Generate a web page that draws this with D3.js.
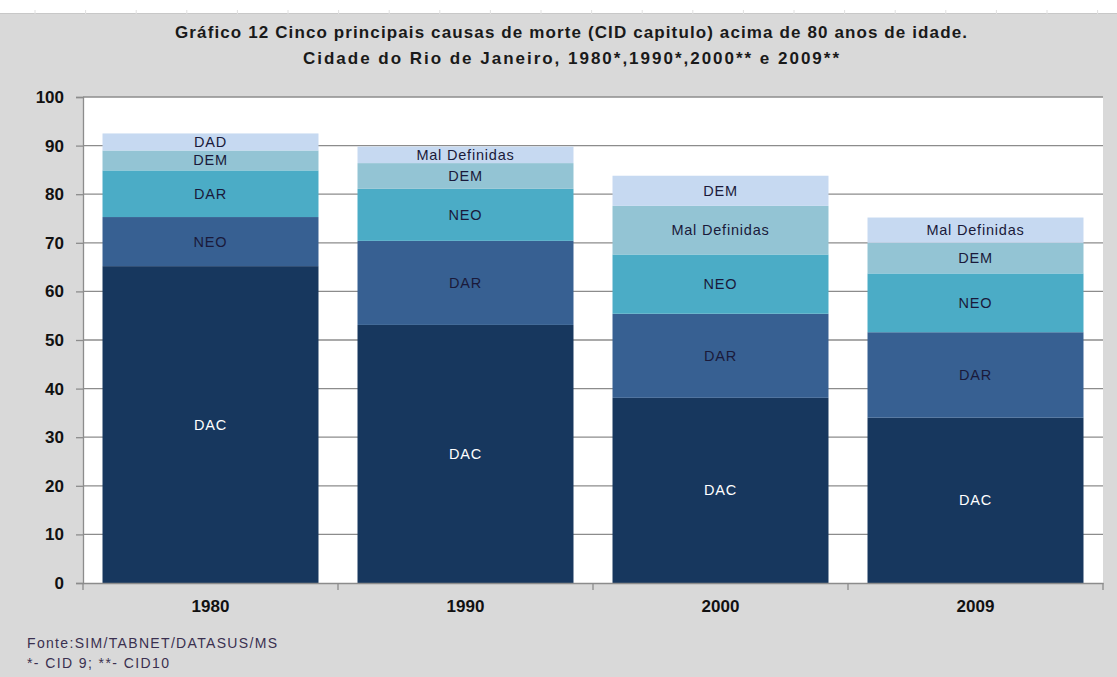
<!DOCTYPE html>
<html>
<head>
<meta charset="utf-8">
<script src="https://cdn.jsdelivr.net/npm/d3@7"></script>
<style>
  body { margin: 0; background: #fff; }
  svg { display: block; }
</style>
</head>
<body>
<script>
// anos (categorias)
const years = ['1980', '1990', '2000', '2009']

// valores por camada da pilha, de baixo para cima
const level1 = [65.2, 53.1, 38.1, 34.0]
const level2 = [10.1, 17.3, 17.3, 17.6]
const level3 = [9.6, 10.7, 12.2, 12.1]
const level4 = [4.1, 5.3, 10.0, 6.3]
const level5 = [3.5, 3.4, 6.2, 5.2]

// rótulos de cada camada (mudam de ano para ano)
const labels1 = ['DAC', 'DAC', 'DAC', 'DAC']
const labels2 = ['NEO', 'DAR', 'DAR', 'DAR']
const labels3 = ['DAR', 'NEO', 'NEO', 'NEO']
const labels4 = ['DEM', 'DEM', 'Mal Definidas', 'DEM']
const labels5 = ['DAD', 'Mal Definidas', 'DEM', 'Mal Definidas']

const yTicks = [0, 10, 20, 30, 40, 50, 60, 70, 80, 90, 100]

const titleLines = [
    'Gráfico 12 Cinco principais causas de morte (CID capitulo) acima de 80 anos de idade.',
    'Cidade do Rio de Janeiro, 1980*,1990*,2000** e 2009**'
]
const footLines = ['Fonte:SIM/TABNET/DATASUS/MS', '*- CID 9; **- CID10']

const levels = [level1, level2, level3, level4, level5]
const labels = [labels1, labels2, labels3, labels4, labels5]
const keys = ['l1', 'l2', 'l3', 'l4', 'l5']
const colors = ['#17375e', '#376092', '#4bacc6', '#93c4d4', '#c6d9f1']
const textColors = ['#ffffff', '#1a1a3a', '#1a1a3a', '#1a1a3a', '#1a1a3a']

const table = years.map((y, i) => {
    const row = { year: y }
    keys.forEach((k, j) => { row[k] = levels[j][i] })
    return row
})

const w = 1117
const h = 677
const plot = { left: 83, right: 1103, top: 97, bottom: 583 }
const font = '"Liberation Sans", Arial, sans-serif'

const svg = d3.select('body')
    .append('svg')
    .attr('width', w)
    .attr('height', h)
    .style('font-family', font)

// fundo cinza da área do gráfico
svg.append('rect').attr('width', w).attr('height', h).attr('fill', '#fff')
svg.append('rect')
    .attr('x', 0).attr('y', 13)
    .attr('width', w).attr('height', h - 13)
    .attr('fill', '#d9d9d9')
svg.append('line')
    .attr('x1', 0).attr('x2', w).attr('y1', 13.5).attr('y2', 13.5)
    .attr('stroke', '#c8c8c8')
svg.selectAll('.colmark')
    .data(d3.range(35, w, 50.6))
    .enter().append('line')
    .attr('x1', d => d).attr('x2', d => d)
    .attr('y1', 10).attr('y2', 14)
    .attr('stroke', '#e0e0e0')

// área de plotagem
svg.append('rect')
    .attr('x', plot.left).attr('y', plot.top)
    .attr('width', plot.right - plot.left).attr('height', plot.bottom - plot.top)
    .attr('fill', '#fff')

const x = d3.scaleBand()
    .domain(years)
    .range([plot.left, plot.right])
    .paddingInner(0.153)
    .paddingOuter(0.0765)

const y = d3.scaleLinear()
    .domain([0, 100])
    .range([plot.bottom, plot.top])

// linhas de grade
svg.append('g')
    .selectAll('line')
    .data(yTicks.filter(d => d > 0))
    .enter().append('line')
    .attr('x1', plot.left).attr('x2', plot.right)
    .attr('y1', d => y(d)).attr('y2', d => y(d))
    .attr('stroke', '#8c8c8c')
    .attr('stroke-width', 1.3)

const series = d3.stack().keys(keys)(table)

const layer = svg.append('g')
    .selectAll('g')
    .data(series)
    .enter().append('g')
    .attr('fill', (d, i) => colors[i])

layer.selectAll('rect')
    .data(d => d)
    .enter().append('rect')
    .attr('x', d => x(d.data.year))
    .attr('width', x.bandwidth())
    .attr('y', d => y(d[1]))
    .attr('height', d => y(d[0]) - y(d[1]))

// rótulos de dados
series.forEach((s, j) => {
    svg.append('g')
        .selectAll('text')
        .data(s)
        .enter().append('text')
        .attr('x', d => x(d.data.year) + x.bandwidth() / 2)
        .attr('y', d => (y(d[0]) + y(d[1])) / 2)
        .attr('dy', '0.35em')
        .attr('text-anchor', 'middle')
        .attr('font-size', 14.5)
        .attr('letter-spacing', 0.8)
        .attr('fill', textColors[j])
        .text((d, i) => labels[j][i])
})

// eixo y
const yAxis = svg.append('g')
    .attr('transform', `translate(${plot.left},0)`)
    .call(d3.axisLeft(y).tickValues(yTicks).tickSize(7).tickPadding(12))
yAxis.select('.domain').attr('stroke', '#8c8c8c').attr('stroke-width', 1.3)
yAxis.selectAll('.tick line').attr('stroke', '#8c8c8c').attr('stroke-width', 1.3)
yAxis.selectAll('.tick text')
    .attr('font-size', 17)
    .attr('font-weight', 'bold')
    .attr('font-family', font)
    .attr('fill', '#111')

// eixo x
const xAxis = svg.append('g')
    .attr('transform', `translate(0,${plot.bottom})`)
    .call(d3.axisBottom(x).tickSize(0).tickPadding(17))
xAxis.select('.domain').attr('stroke', '#8c8c8c').attr('stroke-width', 1.3)
xAxis.selectAll('.tick text')
    .attr('font-size', 17)
    .attr('font-weight', 'bold')
    .attr('font-family', font)
    .attr('fill', '#111')

// marcas entre categorias
const bounds = years.map(d => x(d) - x.step() * x.paddingInner() / 2)
bounds.push(plot.right)
svg.append('g')
    .selectAll('line')
    .data(bounds)
    .enter().append('line')
    .attr('x1', d => d).attr('x2', d => d)
    .attr('y1', plot.bottom).attr('y2', plot.bottom + 7)
    .attr('stroke', '#8c8c8c')
    .attr('stroke-width', 1.3)

// título
const titleWidths = [792, 536]
svg.append('g')
    .selectAll('text')
    .data(titleLines)
    .enter().append('text')
    .attr('x', 571)
    .attr('y', (d, i) => 38 + i * 26)
    .attr('text-anchor', 'middle')
    .attr('font-size', 17)
    .attr('font-weight', 'bold')
    .attr('fill', '#1a1a1a')
    .attr('textLength', (d, i) => titleWidths[i])
    .attr('lengthAdjust', 'spacing')
    .text(d => d)

// fonte / notas
const footWidths = [250, 142]
svg.append('g')
    .selectAll('text')
    .data(footLines)
    .enter().append('text')
    .attr('x', 27)
    .attr('y', (d, i) => 648 + i * 20)
    .attr('font-size', 14)
    .attr('fill', '#3a3050')
    .attr('textLength', (d, i) => footWidths[i])
    .attr('lengthAdjust', 'spacing')
    .text(d => d)
</script>
</body>
</html>
